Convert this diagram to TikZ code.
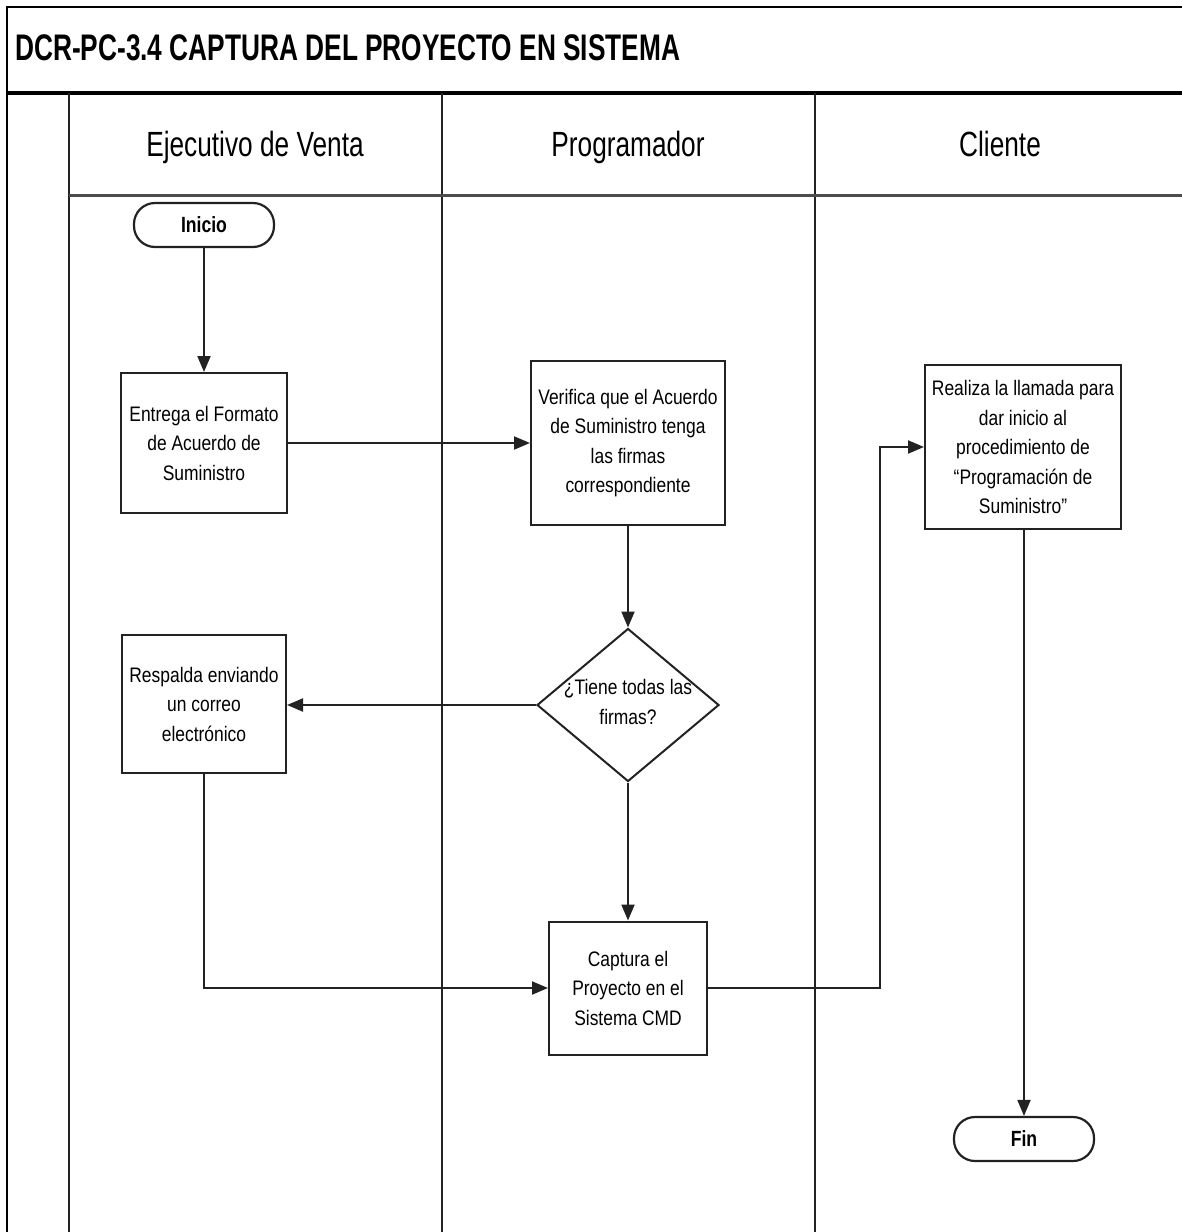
\documentclass[tikz,border=0pt]{standalone}
\usepackage{fontspec}
\usetikzlibrary{arrows.meta,shapes.geometric}
\setmainfont{Liberation Sans}
\newfontfamily\titlef{Liberation Sans}[FakeStretch=0.71]
\newfontfamily\lanef{Liberation Sans}[FakeStretch=0.75]
\newfontfamily\bodyf{Liberation Sans}[FakeStretch=0.83]
\newfontfamily\termf{Liberation Sans}[FakeStretch=0.80]
\definecolor{ink}{HTML}{222222}
\tikzset{
  frameline/.style={draw=black, line width=2.5pt},
  laneline/.style={draw=ink, line width=2.5pt},
  headline/.style={draw=black!70, line width=3pt},
  stepbox/.style={draw=ink, line width=2pt, fill=white, rectangle, inner sep=0pt,
    align=center, font=\bodyf\fontsize{21}{29.5}\selectfont},
  terminal/.style={draw=ink, line width=2.2pt, fill=white, rectangle, rounded corners=21pt,
    minimum width=140pt, minimum height=44pt, inner sep=0pt,
    font=\termf\bfseries\fontsize{22}{26}\selectfont},
  decision/.style={draw=ink, line width=2pt, fill=white, diamond, inner sep=0pt,
    minimum width=182pt, minimum height=153pt},
  bodytext/.style={align=center, inner sep=0pt, font=\bodyf\fontsize{21}{29.5}\selectfont},
  lanetitle/.style={inner sep=0pt, anchor=base, font=\lanef\fontsize{35}{40}\selectfont},
  flow/.style={draw=ink, line width=2pt, -{Triangle[length=16pt,width=13pt]}},
}
\begin{document}
\begin{tikzpicture}[x=1pt, y=-1pt]
\useasboundingbox (0,0) rectangle (1182,1232);

% page frame and title band
\draw[frameline] (7,1232) -- (7,7) -- (1182,7);
\draw[draw=black, line width=4.5pt] (7,93) -- (1182,93);
\node[anchor=west, inner sep=0pt, font=\titlef\bfseries\fontsize{37}{42}\selectfont]
  (title) at (15,48) {DCR-PC-3.4 CAPTURA DEL PROYECTO EN SISTEMA};

% swimlanes
\draw[laneline] (69,93) -- (69,1232);
\draw[laneline] (442,93) -- (442,1232);
\draw[laneline] (815,93) -- (815,1232);
\draw[headline] (69,195) -- (1182,195);
\node[lanetitle] (laneA) at (255,156) {Ejecutivo de Venta};
\node[lanetitle] (laneB) at (628,156) {Programador};
\node[lanetitle] (laneC) at (1000,156) {Cliente};

% steps
\node[terminal] (inicio) at (204,225) {Inicio};
\node[stepbox, minimum width=166pt, minimum height=140pt] (entrega) at (204,443)
  {Entrega el Formato\\de Acuerdo de\\Suministro};
\node[stepbox, minimum width=194pt, minimum height=164pt] (verifica) at (628,443)
  {Verifica que el Acuerdo\\de Suministro tenga\\las firmas\\correspondiente};
\node[decision] (tiene) at (628,705) {};
\node[bodytext] (tienetxt) at (628,702) {¿Tiene todas las\\firmas?};
\node[stepbox, minimum width=164pt, minimum height=138pt] (respalda) at (204,704)
  {Respalda enviando\\un correo\\electrónico};
\node[stepbox, minimum width=158pt, minimum height=133pt] (captura) at (628,988)
  {Captura el\\Proyecto en el\\Sistema CMD};
\node[stepbox, minimum width=196pt, minimum height=164pt] (realiza) at (1023,447)
  {Realiza la llamada para\\dar inicio al\\procedimiento de\\“Programación de\\Suministro”};
\node[terminal] (fin) at (1024,1139) {Fin};

% connectors
\coordinate (turn) at (880,700);
\draw[flow] (inicio.south) -- (entrega.north);
\draw[flow] (entrega.east) -- (verifica.west);
\draw[flow] (verifica.south) -- (tiene.north);
\draw[flow] (tiene.west) -- (tiene.west -| respalda.east);
\draw[flow] (tiene.south) -- (captura.north);
\draw[flow] (respalda.south) |- (captura.west);
\draw[flow] (captura.east) -| (turn) |- (realiza.west);
\draw[flow] (realiza.south -| fin.north) -- (fin.north);
\end{tikzpicture}
\end{document}
